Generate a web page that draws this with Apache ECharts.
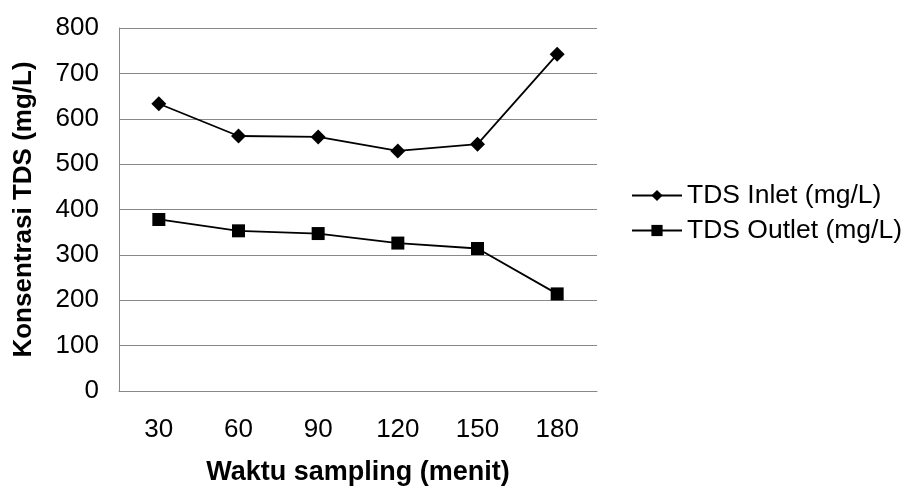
<!DOCTYPE html>
<html>
<head>
<meta charset="utf-8">
<script src="https://cdn.jsdelivr.net/npm/echarts@6/dist/echarts.min.js"></script>
<style>html,body{margin:0;padding:0;background:#fff;}#c{width:907px;height:491px;}</style>
</head>
<body>
<div id="c"></div>
<script>
const categories = ['30', '60', '90', '120', '150', '180'];
const inletValues = [633, 562, 560, 529, 544, 742];
const outletValues = [378, 353, 347, 326, 314, 214];
const yTicks = { min: 0, max: 800, interval: 100 };
const seriesNames = ['TDS Inlet (mg/L)', 'TDS Outlet (mg/L)'];
const xTitle = 'Waktu sampling (menit)';
const yTitle = 'Konsentrasi TDS (mg/L)';

const font = 'Liberation Sans, Arial, sans-serif';
const chart = echarts.init(document.getElementById('c'), null, { renderer: 'canvas' });
chart.setOption({
  backgroundColor: '#fff',
  animation: false,
  textStyle: { fontFamily: font, color: '#000' },
  grid: { left: 119, right: 310, top: 28, bottom: 98, containLabel: false },
  legend: {
    orient: 'vertical', left: 626, top: 177,
    itemWidth: 50, itemHeight: 14, itemGap: 8,
    textStyle: { fontSize: 26.5, color: '#000', fontFamily: font },
    data: seriesNames
  },
  xAxis: {
    type: 'category', data: categories, boundaryGap: true,
    axisLine: { lineStyle: { color: '#888', width: 1 } },
    axisTick: { show: false },
    axisLabel: { fontSize: 26, color: '#000', margin: 26, fontFamily: font },
    name: xTitle, nameLocation: 'middle', nameGap: 68,
    nameTextStyle: { fontSize: 27, fontWeight: 'bold', color: '#000', fontFamily: font }
  },
  yAxis: {
    type: 'value', min: yTicks.min, max: yTicks.max, interval: yTicks.interval,
    axisLine: { show: true, lineStyle: { color: '#888', width: 1 } },
    axisTick: { show: false },
    splitLine: { lineStyle: { color: '#888', width: 1 } },
    axisLabel: { fontSize: 26, color: '#000', margin: 20, fontFamily: font },
    name: yTitle, nameLocation: 'middle', nameGap: 82, nameRotate: 90,
    nameTextStyle: { fontSize: 26, fontWeight: 'bold', color: '#000', fontFamily: font }
  },
  series: [
    {
      name: seriesNames[0], type: 'line', data: inletValues,
      symbol: 'diamond', symbolSize: 15,
      lineStyle: { color: '#000', width: 1.8 },
      itemStyle: { color: '#000' }
    },
    {
      name: seriesNames[1], type: 'line', data: outletValues,
      symbol: 'rect', symbolSize: 13,
      lineStyle: { color: '#000', width: 1.8 },
      itemStyle: { color: '#000' }
    }
  ]
});
</script>
</body>
</html>
